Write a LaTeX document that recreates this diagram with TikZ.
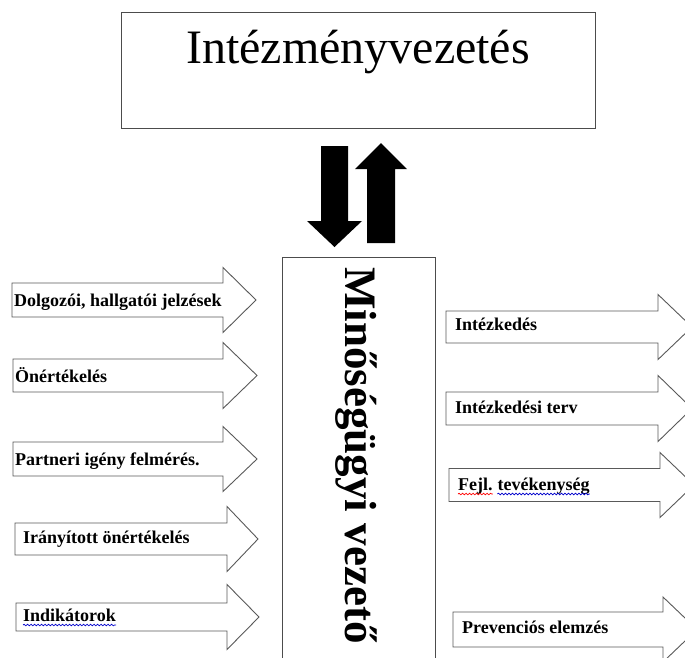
\documentclass[tikz,border=0pt]{standalone}
\usepackage{fontspec}
\setmainfont{Liberation Serif}
\usetikzlibrary{positioning,decorations.pathmorphing}

\tikzset{
  frame/.style={draw=black!70, line width=1pt, inner sep=0pt},
  arrowline/.style={draw=black!65, line width=.9pt, fill=white},
  lbl/.style={inner sep=0pt, anchor=base west, font=\fontsize{18}{20}\selectfont\bfseries},
  squig/.style={line width=.7pt, decorate, decoration={snake, amplitude=.8pt, segment length=3.5pt}}
}

\newcommand{\hollowarrow}[6]{%
  \draw [arrowline] (#1,#2-#3) -- (#4,#2-#3) -- (#4,#2-#5) -- (#6,#2)
    -- (#4,#2+#5) -- (#4,#2+#3) -- (#1,#2+#3) -- cycle;}

\begin{document}
\begin{tikzpicture}[x=1pt, y=-1pt]

\useasboundingbox (0,0) rectangle (685,657);
\clip (0,0) rectangle (685,657);

\node [frame, minimum width=474pt, minimum height=116pt] (vezetes) at (358,70) {};
\node [anchor=base, inner sep=0pt, font=\fontsize{48}{50}\selectfont] (vezetescim) at (358,63) {Intézményvezetés};

\node [frame, anchor=north, minimum width=153pt, minimum height=460pt] (minoseg) at (358.5,257) {};
\node [anchor=base, rotate=-90, inner sep=0pt, font=\fontsize{45}{48}\selectfont\bfseries] (minosegcim) at (345,455.5) {Minőségügyi vezető};

\fill (321,146) -- (348,146) -- (348,221) -- (362,221) -- (334.5,247) -- (307,221) -- (321,221) -- cycle;
\fill (367,243) -- (395,243) -- (395,169) -- (407,169) -- (381,143) -- (355,169) -- (367,169) -- cycle;

\hollowarrow{12}{300}{17}{223}{32.5}{256}
\hollowarrow{13}{375.5}{16.5}{223}{33}{257}
\hollowarrow{13}{459}{17}{223}{32.5}{257}
\hollowarrow{15}{539}{16}{227}{32.5}{258}
\hollowarrow{16}{617}{14}{227}{32.5}{259}

\hollowarrow{446}{327}{16}{658}{32.5}{692}
\hollowarrow{446}{408.5}{16.5}{658}{33}{692}
\hollowarrow{449}{485}{16.5}{660}{32.5}{694}
\hollowarrow{453}{629.5}{17.5}{663}{32.5}{697}

\node [lbl] (dolgozoi) at (14,306.5) {Dolgozói, hallgatói jelzések};
\node [lbl] (onert) at (15,382.5) {Önértékelés};
\node [lbl] (partner) at (15,465) {Partneri igény felmérés.};
\node [lbl] (iranyitott) at (23,543) {Irányított önértékelés};
\node [lbl] (indik) at (23,621.5) {Indikátorok};

\node [lbl] (intezk) at (455,330.5) {Intézkedés};
\node [lbl] (terv) at (455,413) {Intézkedési terv};
\node [lbl] (fejl) at (458,490.5) {Fejl.};
\node [lbl, right=4.5pt of fejl.base east, anchor=base west] (tevek) {tevékenység};
\node [lbl] (prev) at (462,633) {Prevenciós elemzés};

\draw [squig, red] ([yshift=-3.5pt]fejl.base west) -- ([yshift=-3.5pt]fejl.base east);
\draw [squig, blue!80!black] ([yshift=-3.5pt]tevek.base west) -- ([yshift=-3.5pt]tevek.base east);
\draw [squig, blue!80!black] ([yshift=-3.5pt]indik.base west) -- ([yshift=-3.5pt]indik.base east);

\end{tikzpicture}
\end{document}
